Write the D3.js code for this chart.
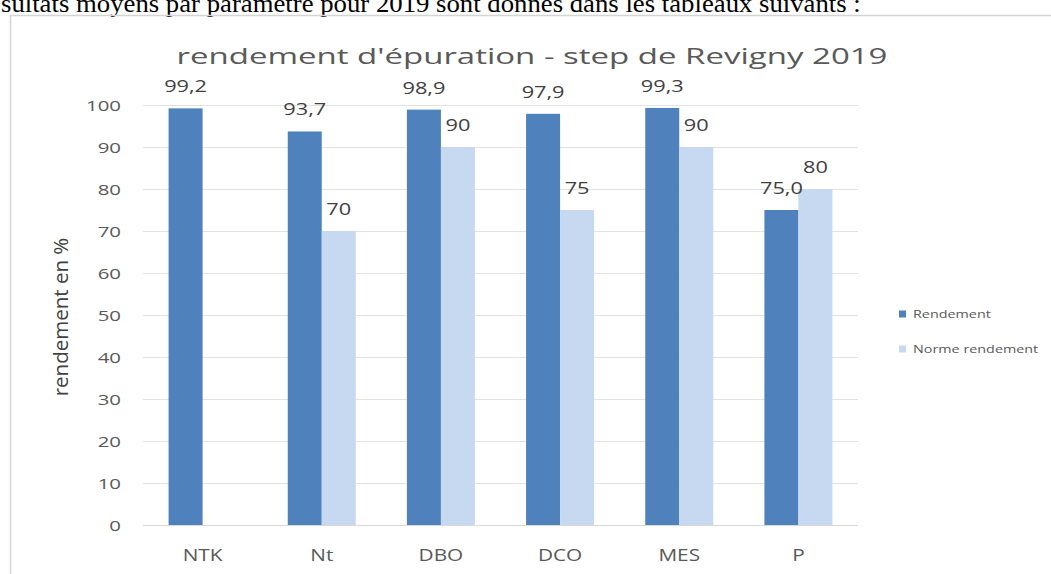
<!DOCTYPE html>
<html>
<head>
<meta charset="utf-8">
<script src="https://cdn.jsdelivr.net/npm/d3@7"></script>
<style>
  body { margin: 0; background: #fff; }
  svg { display: block; }
</style>
</head>
<body>
<div id="my_dataviz"></div>
<script>
// data
var categories = ["NTK", "Nt", "DBO", "DCO", "MES", "P"];
var rendement = [99.2, 93.7, 98.9, 97.9, 99.3, 75.0];
var normeRendement = [null, 70, 90, 75, 90, 80];
var seriesNames = ["Rendement", "Norme rendement"];
var yTicks = [0, 10, 20, 30, 40, 50, 60, 70, 80, 90, 100];

var W = 1051, H = 574;
var plot = {left: 143, right: 858, top: 105, bottom: 525};
var font = "'Open Sans', sans-serif";

var svg = d3.select("#my_dataviz")
  .append("svg")
    .attr("width", W)
    .attr("height", H);

// the screenshot is stretched sideways, so widen texts around their anchor
function stretch(sel, sx) {
  sel.each(function() {
    var t = d3.select(this);
    var ax = +t.attr("x") || 0;
    t.attr("transform", "translate(" + ax + ",0) scale(" + sx + ",1) translate(" + (-ax) + ",0)");
  });
}

// text of the document above the chart (cut off at the top)
svg.append("text")
  .attr("x", 1)
  .attr("y", 12)
  .style("font-family", "'Liberation Serif', 'Times New Roman', serif")
  .style("font-size", "25px")
  .style("fill", "#000")
  .text("sultats moyens par paramètre pour 2019 sont donnés dans les tableaux suivants :")
  .call(stretch, 1.07);

// chart frame
svg.append("rect")
  .attr("x", 10.5)
  .attr("y", 15.5)
  .attr("width", W)
  .attr("height", H)
  .style("fill", "none")
  .style("stroke", "#d4d4d4")
  .style("stroke-width", 1.5);

var x = d3.scaleBand()
  .domain(categories)
  .range([plot.left, plot.right]);

var y = d3.scaleLinear()
  .domain([0, 100])
  .range([plot.bottom, plot.top]);

var barW = 34;

// gridlines
svg.append("g")
  .selectAll("line")
  .data(yTicks)
  .enter()
  .append("line")
    .attr("x1", plot.left)
    .attr("x2", plot.right)
    .attr("y1", function(d) { return Math.round(y(d)) + 0.5; })
    .attr("y2", function(d) { return Math.round(y(d)) + 0.5; })
    .style("stroke", function(d) { return d === 0 ? "#d9d9d9" : "#e3e3e3"; })
    .style("stroke-width", 1.2);

// Y axis labels
var yAxis = svg.append("g")
  .attr("transform", "translate(" + (plot.left - 22) + ",0)")
  .call(d3.axisLeft(y).tickValues(yTicks).tickSize(0).tickPadding(0));
yAxis.select(".domain").remove();
yAxis.selectAll("text")
  .attr("dy", "0.36em")
  .style("font-family", font)
  .style("font-size", "15px")
  .style("fill", "#595959")
  .call(stretch, 1.36);

// X axis labels
var xAxis = svg.append("g")
  .attr("transform", "translate(0," + (plot.bottom + 36) + ")")
  .call(d3.axisBottom(x).tickSize(0).tickPadding(0));
xAxis.select(".domain").remove();
xAxis.selectAll("text")
  .attr("dy", 0)
  .style("font-family", font)
  .style("font-size", "16px")
  .style("fill", "#595959")
  .call(stretch, 1.3);

// bars
var colors = ["#4f81bd", "#c6d9f0"];
var rows = categories.map(function(c, i) {
  return {cat: c, vals: [rendement[i], normeRendement[i]]};
});
function present(d) {
  return d.vals.map(function(v, k) { return {v: v, k: k}; })
    .filter(function(e) { return e.v != null; });
}

var groups = svg.append("g")
  .selectAll("g")
  .data(rows)
  .enter()
  .append("g")
    .attr("transform", function(d) { return "translate(" + (x(d.cat) + x.bandwidth() / 2) + ",0)"; });

groups.selectAll("rect")
  .data(present)
  .enter()
  .append("rect")
    .attr("x", function(d) { return d.k === 0 ? -barW : 0; })
    .attr("y", function(d) { return y(d.v); })
    .attr("width", barW)
    .attr("height", function(d) { return y(0) - y(d.v); })
    .style("fill", function(d) { return colors[d.k]; });

groups.selectAll("text")
  .data(present)
  .enter()
  .append("text")
    .attr("x", function(d) { return d.k === 0 ? -barW / 2 : barW / 2; })
    .attr("y", function(d) { return y(d.v) - 16; })
    .attr("text-anchor", "middle")
    .style("font-family", font)
    .style("font-size", "16px")
    .style("fill", "#404040")
    .text(function(d) { return d.k === 0 ? d3.format(".1f")(d.v).replace(".", ",") : d.v; })
    .call(stretch, 1.36);

// title
svg.append("text")
  .attr("x", 532)
  .attr("y", 64)
  .attr("text-anchor", "middle")
  .style("font-family", font)
  .style("font-size", "22px")
  .style("fill", "#595959")
  .text("rendement d'épuration - step de Revigny 2019")
  .call(stretch, 1.5);

// y axis title
svg.append("text")
  .attr("transform", "translate(68,317) rotate(-90)")
  .attr("text-anchor", "middle")
  .style("font-family", font)
  .style("font-size", "20.5px")
  .style("fill", "#404040")
  .text("rendement en %");

// legend
var legend = svg.append("g")
  .selectAll("g")
  .data(seriesNames)
  .enter()
  .append("g")
    .attr("transform", function(d, i) { return "translate(899," + (314 + i * 35) + ")"; });
legend.append("rect")
  .attr("x", 0)
  .attr("y", -3.5)
  .attr("width", 7)
  .attr("height", 7)
  .style("fill", function(d, i) { return colors[i]; });
legend.append("text")
  .attr("x", 14)
  .attr("y", 4)
  .style("font-family", font)
  .style("font-size", "11.5px")
  .style("fill", "#595959")
  .text(function(d) { return d; })
  .call(stretch, 1.25);
</script>
</body>
</html>
